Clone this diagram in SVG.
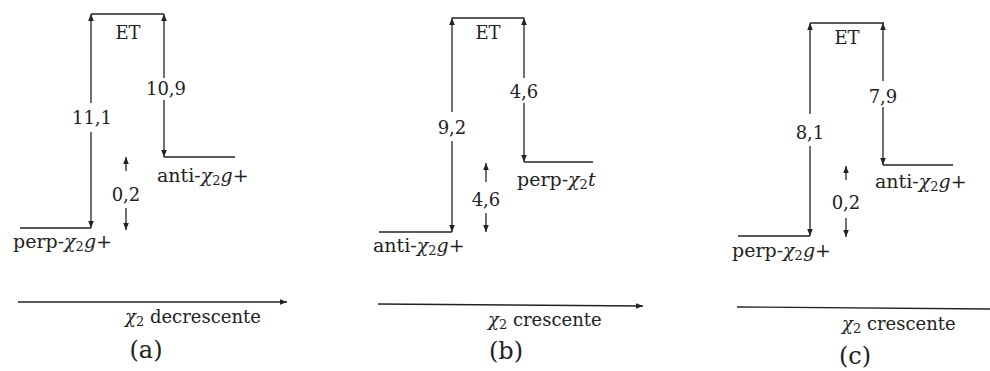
<svg xmlns="http://www.w3.org/2000/svg" width="990" height="371" viewBox="0 0 990 371">
<defs>
<marker id="ah" viewBox="0 0 10 8" refX="10" refY="4" markerWidth="7" markerHeight="5.6" markerUnits="userSpaceOnUse" orient="auto">
<path d="M0,0 L10,4 L0,8 Z" fill="#222"/>
</marker>
<style>
.ln{stroke:#222;stroke-width:1.3;fill:none}
.ar{stroke:#222;stroke-width:1.3;fill:none;marker-end:url(#ah)}
text{font-family:'DejaVu Serif',serif;fill:#222;font-size:18px}
.c{text-anchor:middle}
.lb{font-size:19px}
.it{font-style:italic}
.sub{font-size:13px}
.cap{font-size:24px;text-anchor:middle}
</style>
</defs>
<rect width="990" height="371" fill="#fff"/>

<g id="connectors">
<!-- panel a -->
<path class="ln" d="M91,14 H164"/>
<path class="ar" d="M91,103 V14"/>
<path class="ar" d="M91,132 V228"/>
<path class="ln" d="M20,228 H91"/>
<path class="ar" d="M164,78 V14"/>
<path class="ar" d="M164,100 V157"/>
<path class="ln" d="M164,157 H235"/>
<path class="ar" d="M126,171 V157"/>
<path class="ar" d="M126,208 V230"/>
<path class="ar" d="M18,302 H287"/>
<!-- panel b -->
<path class="ln" d="M452,18 H524"/>
<path class="ar" d="M452,112 V18"/>
<path class="ar" d="M452,141 V232"/>
<path class="ln" d="M379,232 H452"/>
<path class="ar" d="M524,78 V18"/>
<path class="ar" d="M524,103 V162"/>
<path class="ln" d="M524,162 H593"/>
<path class="ar" d="M486,182 V163"/>
<path class="ar" d="M486,213 V232"/>
<path class="ar" d="M378,304 L643,306"/>
<!-- panel c -->
<path class="ln" d="M810,23 H884"/>
<path class="ar" d="M810,114 V23"/>
<path class="ar" d="M810,146 V236"/>
<path class="ln" d="M738,236 H810"/>
<path class="ar" d="M883,81 V23"/>
<path class="ar" d="M883,107 V165"/>
<path class="ln" d="M883,165 H953"/>
<path class="ar" d="M846,180 V166"/>
<path class="ar" d="M846,218 V237"/>
<path class="ln" d="M737,307 L990,309"/>
</g>

<g id="panel-a">
<text class="c" x="128" y="39">ET</text>
<text class="c" x="92" y="124">11,1</text>
<text class="c" x="166" y="95">10,9</text>
<text class="c" x="126" y="201">0,2</text>
<text class="lb" x="157" y="182">anti-<tspan class="it">χ</tspan><tspan class="sub" dy="3">2</tspan><tspan class="it" dy="-3">g</tspan>+</text>
<text class="lb" x="13" y="248">perp-<tspan class="it">χ</tspan><tspan class="sub" dy="3">2</tspan><tspan class="it" dy="-3">g</tspan>+</text>
<text x="125" y="323"><tspan class="it">χ</tspan><tspan class="sub" dy="3">2</tspan><tspan dy="-3"> decrescente</tspan></text>
<text class="cap" x="146" y="358">(a)</text>
</g>

<g id="panel-b">
<text class="c" x="488" y="39">ET</text>
<text class="c" x="452" y="134">9,2</text>
<text class="c" x="524" y="98">4,6</text>
<text class="c" x="486" y="206">4,6</text>
<text class="lb" x="517" y="186">perp-<tspan class="it">χ</tspan><tspan class="sub" dy="3">2</tspan><tspan class="it" dy="-3">t</tspan></text>
<text class="lb" x="373" y="252">anti-<tspan class="it">χ</tspan><tspan class="sub" dy="3">2</tspan><tspan class="it" dy="-3">g</tspan>+</text>
<text x="488" y="326"><tspan class="it">χ</tspan><tspan class="sub" dy="3">2</tspan><tspan dy="-3"> crescente</tspan></text>
<text class="cap" x="506" y="359">(b)</text>
</g>

<g id="panel-c">
<text class="c" x="847" y="44">ET</text>
<text class="c" x="810" y="139">8,1</text>
<text class="c" x="883" y="103">7,9</text>
<text class="c" x="846" y="209">0,2</text>
<text class="lb" x="875" y="188">anti-<tspan class="it">χ</tspan><tspan class="sub" dy="3">2</tspan><tspan class="it" dy="-3">g</tspan>+</text>
<text class="lb" x="732" y="257">perp-<tspan class="it">χ</tspan><tspan class="sub" dy="3">2</tspan><tspan class="it" dy="-3">g</tspan>+</text>
<text x="842" y="330"><tspan class="it">χ</tspan><tspan class="sub" dy="3">2</tspan><tspan dy="-3"> crescente</tspan></text>
<text class="cap" x="855" y="364">(c)</text>
</g>
</svg>
